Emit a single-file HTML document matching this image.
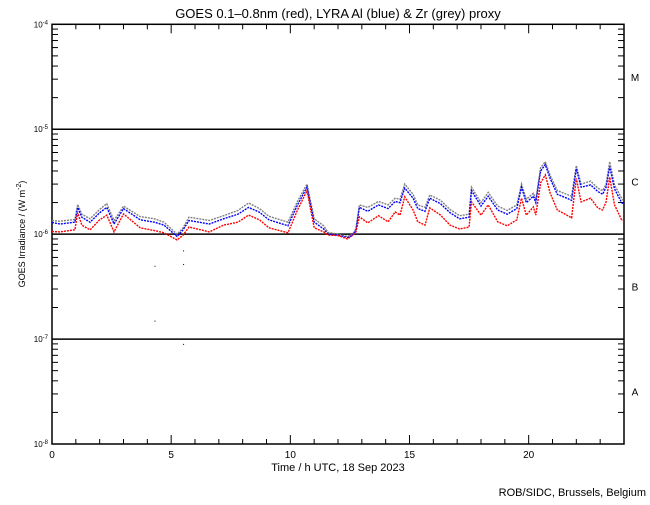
<!DOCTYPE html>
<html><head><meta charset="utf-8"><style>
body{margin:0;background:#fff;}
svg text{font-family:"Liberation Sans",sans-serif;}
</style></head><body>
<svg id="c" width="650" height="500" xmlns="http://www.w3.org/2000/svg">
<rect width="650" height="500" fill="#fff"/>
<text x="338" y="18" font-size="13" text-anchor="middle">GOES 0.1–0.8nm (red), LYRA Al (blue) &amp; Zr (grey) proxy</text>
<text x="338" y="471" font-size="11" text-anchor="middle">Time / h UTC, 18 Sep 2023</text>
<text transform="translate(25,234) rotate(-90)" font-size="9" text-anchor="middle">GOES Irradiance / (W m<tspan dy="-4" font-size="7">-2</tspan><tspan dy="4">)</tspan></text>
<text x="646" y="496" font-size="11" text-anchor="end">ROB/SIDC, Brussels, Belgium</text>
<g id="axes"></g>
<g id="series"></g>
</svg>
<script>
const times=[0,0.33,0.96,1.08,1.25,1.6,2.0,2.3,2.6,3.0,3.7,4.3,4.7,5.25,5.5,5.75,6.6,7.2,7.8,8.25,8.7,9.1,9.9,10.3,10.7,11.0,11.4,11.58,12.0,12.4,12.6,12.75,12.9,13.25,13.7,14.1,14.4,14.6,14.8,15.15,15.35,15.65,15.85,16.3,16.7,17.1,17.5,17.6,18.0,18.3,18.7,19.1,19.5,19.7,19.9,20.2,20.3,20.5,20.7,20.9,21.2,21.6,21.8,22.0,22.2,22.6,22.9,23.1,23.25,23.4,23.6,23.9,24];
const goesRed=[1.06,1.05,1.1,1.6,1.22,1.1,1.37,1.52,1.05,1.56,1.15,1.08,1.03,0.88,0.98,1.17,1.05,1.22,1.3,1.52,1.37,1.15,1.03,1.7,2.6,1.15,1.05,0.98,0.97,0.9,0.97,1.05,1.46,1.28,1.5,1.31,1.63,1.52,2.27,1.7,1.31,1.22,1.78,1.52,1.22,1.12,1.17,2.03,1.52,1.9,1.31,1.2,1.37,2.2,1.52,1.82,1.52,3.08,3.67,2.47,1.7,1.52,1.43,3.4,2.03,2.2,1.78,1.7,2.03,3.5,1.9,1.37,1.35];
const lyraAl=[1.29,1.25,1.3,1.8,1.45,1.3,1.6,1.8,1.25,1.75,1.37,1.3,1.22,0.95,1.1,1.35,1.25,1.4,1.55,1.8,1.62,1.37,1.2,1.9,2.8,1.3,1.12,1.0,0.98,0.93,0.97,1.08,1.8,1.65,1.9,1.75,2.05,2.0,2.75,2.2,1.75,1.65,2.2,1.95,1.6,1.4,1.45,2.6,1.85,2.3,1.7,1.55,1.75,2.8,2.0,2.3,2.0,4.0,4.6,3.4,2.4,2.2,2.1,4.2,2.8,2.95,2.55,2.4,2.8,4.4,2.7,2.0,1.9];
const lyraZr=[1.35,1.33,1.38,1.92,1.55,1.4,1.72,1.95,1.35,1.85,1.47,1.4,1.3,1.0,1.15,1.45,1.35,1.5,1.68,1.98,1.75,1.48,1.3,2.05,3.0,1.4,1.2,1.04,1.0,0.95,0.99,1.12,1.9,1.8,2.05,1.9,2.2,2.15,3.0,2.4,1.9,1.8,2.36,2.1,1.72,1.5,1.55,2.8,2.0,2.5,1.85,1.68,1.9,3.0,2.15,2.45,2.15,4.3,4.9,3.65,2.6,2.4,2.3,4.5,3.0,3.2,2.75,2.6,3.0,4.9,2.95,2.2,2.05];
const strayT=[4.3,5.5,4.3,5.5,5.5];
const strayV=[0.5,0.52,0.15,0.09,0.7];
const xTicks=[0,5,10,15,20];
const decades=[-8,-7,-6,-5,-4];
const classLabels=["A","B","C","M"];

const L=52,R=624,T=24.3,B=444;
const NS="http://www.w3.org/2000/svg";
function xs(h){return L+(h/24)*(R-L);}
function ys(v){return B-(Math.log10(v)+8)*(B-T)/4;}
function ysMicro(u){return ys(u*1e-6);}
const ax=document.getElementById('axes'),se=document.getElementById('series');
function mk(tag,at,parent){const e=document.createElementNS(NS,tag);for(const k in at)e.setAttribute(k,at[k]);parent.appendChild(e);return e;}

const frame=mk('rect',{x:L,y:T,width:R-L,height:B-T,fill:'none',stroke:'#000','stroke-width':1.5},ax);


[-7,-6,-5].forEach(d=>{const y=ys(Math.pow(10,d));
 const l=mk('line',{x1:L,x2:R,y1:y,y2:y,stroke:'#000','stroke-width':1.5},ax);
 
 });
for(let d=-8;d<-4;d++){for(let m=2;m<=9;m++){const y=ys(m*Math.pow(10,d));
 mk('line',{x1:L,x2:L+6,y1:y,y2:y,stroke:'#000'},ax);mk('line',{x1:R-6,x2:R,y1:y,y2:y,stroke:'#000'},ax);}}
decades.forEach(d=>{const y=ys(Math.pow(10,d));
 const t=mk('text',{x:L-4,y:y+3,'font-size':8,'text-anchor':'end'},ax);
 t.innerHTML='10<tspan dy="-3" font-size="6">'+d+'</tspan>';
 
 });
classLabels.forEach((c,i)=>{const y=ys(Math.pow(10,-7.5+i));
 const t=mk('text',{x:635,y:y+4,'font-size':10,'text-anchor':'middle'},ax);t.textContent=c;
 
 });
for(let h=1;h<24;h++){const x=xs(h),len=(h%5===0)?9:5;
 mk('line',{x1:x,x2:x,y1:B,y2:B-len,stroke:'#000'},ax);mk('line',{x1:x,x2:x,y1:T,y2:T+len,stroke:'#000'},ax);}
xTicks.forEach(h=>{const t=mk('text',{x:xs(h),y:B+14,'font-size':10,'text-anchor':'middle'},ax);t.textContent=h;
 
 });
function line(arr,col,name){const p=arr.map((v,i)=>xs(times[i]).toFixed(1)+','+ysMicro(v).toFixed(1)).join(' ');
 const pl=mk('polyline',{points:p,fill:'none',stroke:col,'stroke-width':1.4,'stroke-dasharray':'2 1'},se);
 
 }
line(lyraZr,'#808080','lyra-zr-series');
line(lyraAl,'#0000ff','lyra-al-series');
line(goesRed,'#ff0000','goes-series');
strayT.forEach((t,i)=>{const r=mk('rect',{x:xs(t),y:ysMicro(strayV[i]),width:1,height:1,fill:'#000'},se);
 
 });
</script>
</body></html>
